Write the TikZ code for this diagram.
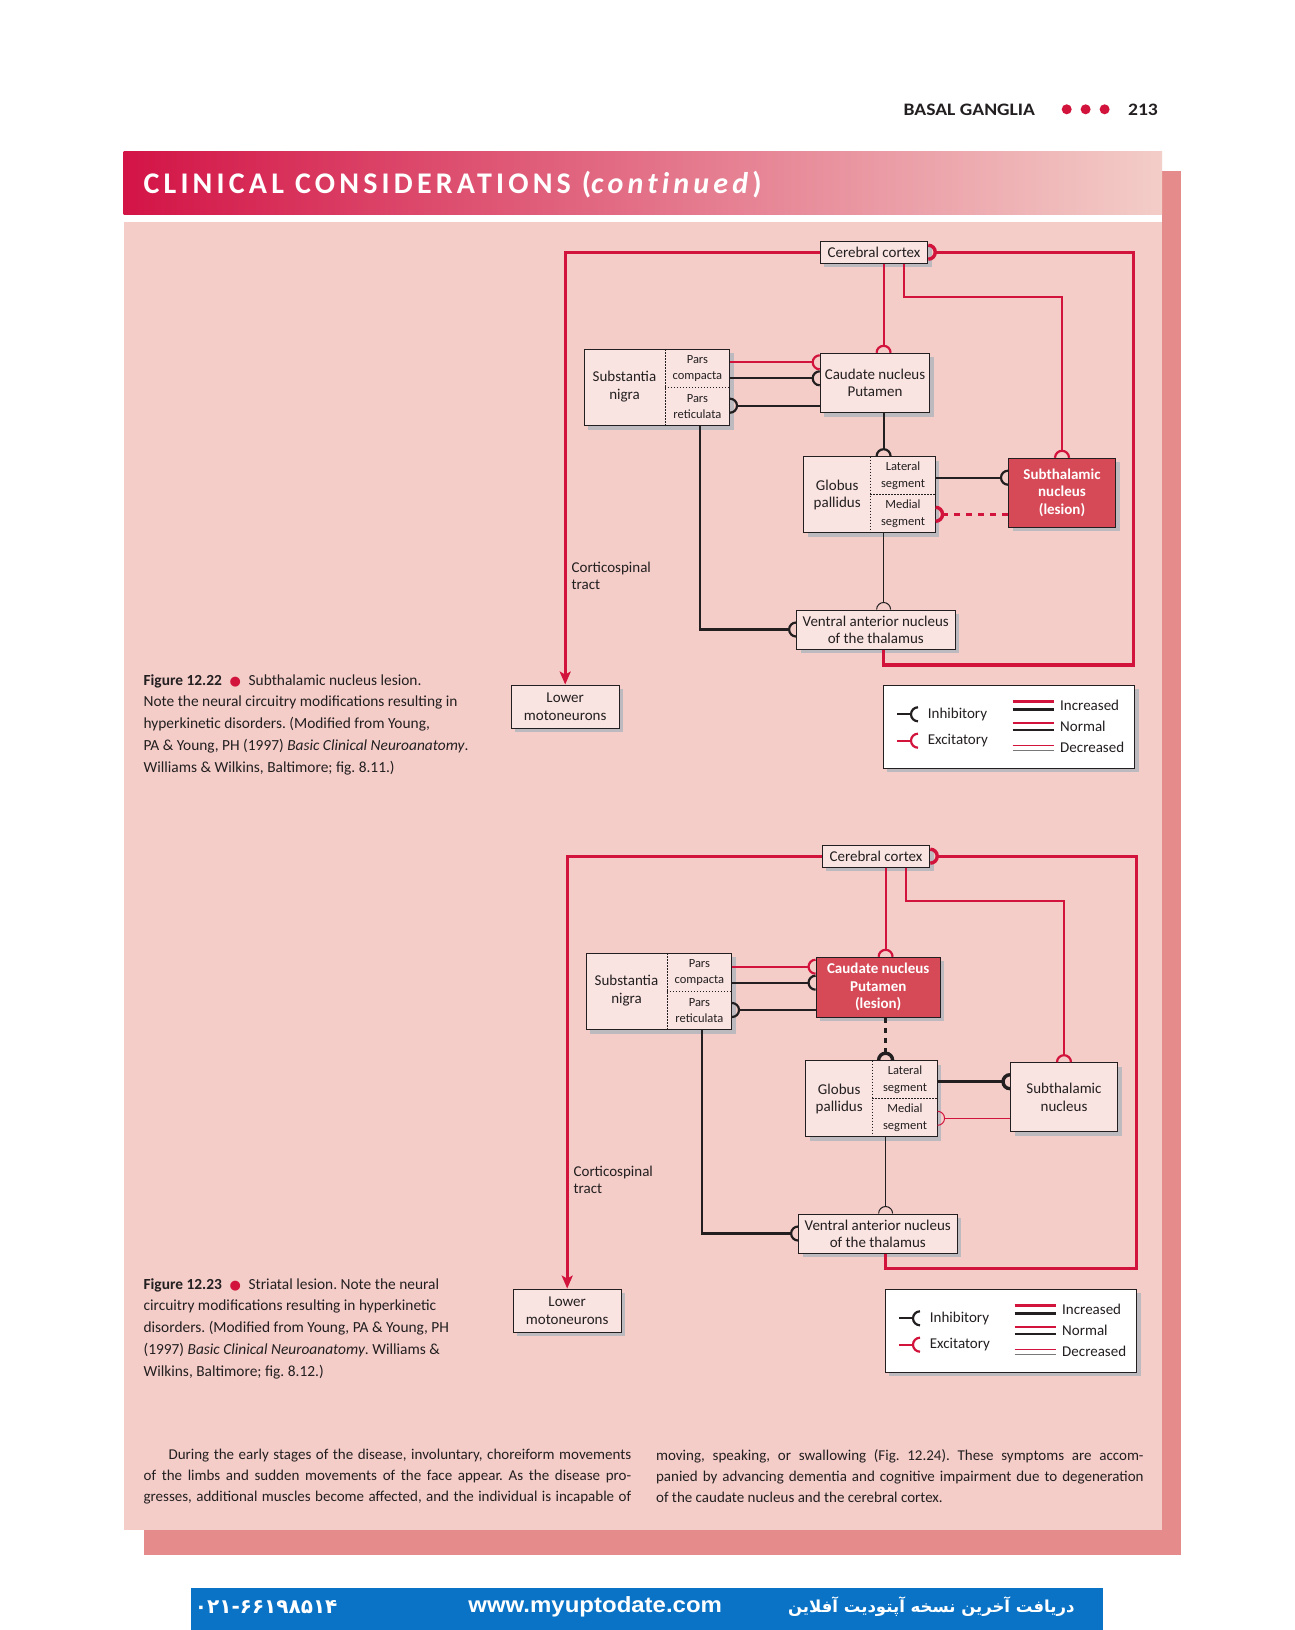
\documentclass[tikz,border=0pt]{standalone}
\usepackage{fontspec}
\usepackage{graphicx}
\setmainfont{Carlito}
\newfontfamily\headfont{Carlito}
\newfontfamily\titlefont{Carlito}[LetterSpace=14, Ligatures=NoCommon]
\newfontfamily\webfont{Liberation Sans}
\newfontfamily\symfont{DejaVu Sans}
\newfontfamily\arabicfont[Script=Arabic]{DejaVu Sans}
\TeXXeTstate=1
\usetikzlibrary{arrows.meta,shadows}

\definecolor{ink}{RGB}{35,31,32}
\definecolor{nred}{RGB}{210,20,60}
\definecolor{boxfill}{RGB}{250,228,225}
\definecolor{panel}{RGB}{244,205,201}
\definecolor{shadowpink}{RGB}{229,139,139}
\definecolor{shadegray}{RGB}{188,186,190}
\definecolor{lesionred}{RGB}{214,74,87}
\definecolor{barblue}{RGB}{10,115,198}
\definecolor{titlered}{RGB}{211,20,70}
\definecolor{titlepink}{RGB}{243,205,200}
\definecolor{lowgray}{RGB}{120,120,120}

\newcommand{\boxfont}{\fontsize{15}{17.3}\selectfont}
\newcommand{\partfont}{\fontsize{12.5}{16.5}\selectfont}
\newcommand{\capfont}{\fontsize{15.4}{21.8}\selectfont}
\newcommand{\bodyfont}{\fontsize{15}{21}\selectfont}
\newcommand{\redbullet}{{\symfont\fontsize{13}{13}\selectfont\textcolor{nred}{●}}}

% half-circle ending of a fibre
\pgfdeclarearrow{
  name = Cup,
  parameters = {\the\pgfarrowlength},
  setup code = {
    \pgfarrowssettipend{0pt}
    \pgfarrowssetlineend{-\pgfarrowlength}
    \pgfarrowssetbackend{-\pgfarrowlength}
    \pgfarrowssavethe\pgfarrowlength
  },
  drawing code = {
    \pgfsetdash{}{0pt}
    \pgfsetbuttcap
    \pgfpathmoveto{\pgfqpoint{0pt}{\pgfarrowlength}}
    \pgfpatharc{90}{270}{\pgfarrowlength}
    \pgfusepathqstroke
  },
  defaults = {length = 7pt}
}

\begin{document}
\begin{tikzpicture}[x=1pt, y=-1pt,
  region/.style={draw=ink, line width=1pt, fill=boxfill, text=ink, align=center,
    inner sep=0pt, font=\boxfont,
    drop shadow={shadow xshift=4pt, shadow yshift=-4pt, fill=shadegray, opacity=1}},
  lesion/.style={region, fill=lesionred, text=white, font=\fontsize{15}{17.5}\selectfont\bfseries},
  cell/.style={inner sep=0pt, align=center, text=ink, font=\partfont},
  divider/.style={draw=ink, line width=0.6pt, dash pattern=on 1.6pt off 1.4pt},
  tipped/.style={-{Cup[length=7pt]}},
  exc/.style={tipped, draw=nred, line width=2.2pt},
  inh/.style={tipped, draw=ink, line width=2.2pt},
  incr/.style={line width=3.4pt},
  decr/.style={line width=1pt},
  tract/.style={nred, line width=3.4pt, -{Stealth[length=13pt, width=11pt, inset=3pt]}}]

  \useasboundingbox (0,0) rectangle (1294,1630);
  \fill[white] (0,0) rectangle (1294,1630);

  % page furniture
  \node[anchor=base east, text=ink, font=\headfont\bfseries\fontsize{17.5}{20}\selectfont] (folio) at (1161.4,115) {\scalebox{1.12}[1]{213}};
  \node[anchor=base east, text=ink, font=\headfont\bfseries\fontsize{17.5}{20}\selectfont] (running) at (1038.6,115) {\scalebox{1.12}[1]{BASAL GANGLIA}};
  \foreach \x in {1066.7,1085.6,1104.6}
    \fill[nred] (\x,109.3) circle (5);

  \fill[shadowpink] (143.5,170.7) rectangle (1180.8,1555);
  \fill[white] (123.7,214.1) rectangle (1162,222.4);
  \fill[panel] (123.7,222.4) rectangle (1162,1530);
  \shade[left color=titlered, right color=titlepink] (123.7,151.8) rectangle (1162,214.1);
  \node[anchor=base west, inner sep=0pt, text=white, font=\titlefont\bfseries\fontsize{30}{34}\selectfont] (title) at (143.4,193.3) {CLINICAL CONSIDERATIONS (\textit{continued})};

  % Figure 12.22
  \node[region, minimum width=107.5, minimum height=22.3] (cortexA) at (874,252.2) {Cerebral cortex};
  \node[region, minimum width=107.7, minimum height=43.3] (lowerA) at (565.2,706.7) {Lower\\motoneurons};
  \node[region, minimum width=109.6, minimum height=59.4] (cauA) at (875,383) {Caudate nucleus\\Putamen};
  \node[region, minimum width=145.8, minimum height=76.4] (snA) at (656.9,387.5) {};
  \node[cell, font=\boxfont] (snlA) at (624.5,386.7) {Substantia\\nigra};
  \node[cell, minimum width=64.8, minimum height=38] (snpcA) at (697.4,368.3) {Pars\\compacta};
  \node[cell, minimum width=64.8, minimum height=38.4] (snprA) at (697.4,406.5) {Pars\\reticulata};
  \node[region, minimum width=131.5, minimum height=76] (gpA) at (869.6,494.7) {};
  \node[cell, font=\boxfont] (gplA) at (837.2,494.7) {Globus\\pallidus};
  \node[cell, minimum width=64.7, minimum height=37.6] (latA) at (903,475.5) {Lateral\\segment};
  \node[cell, minimum width=64.7, minimum height=38.4] (medA) at (903,513.5) {Medial\\segment};
  \node[lesion, minimum width=107, minimum height=69] (stnA) at (1062,492.8) {Subthalamic\\nucleus\\(lesion)};
  \node[region, minimum width=158.4, minimum height=39] (vaA) at (875.8,629.5) {Ventral anterior nucleus\\of the thalamus};
  \node[cell, font=\boxfont, anchor=north west, align=left] (tractA) at (571.4,562) {Corticospinal\\tract};

  \draw[divider] (snpcA.north west) -- (snprA.south west);
  \draw[divider] (snpcA.south west) -- (snpcA.south east);
  \draw[divider] (latA.north west) -- (medA.south west);
  \draw[divider] (latA.south west) -- (latA.south east);

  \coordinate (spineA) at (883.6,0);
  \coordinate (stalkA) at (904.2,0);
  \coordinate (dropA) at (700,0);
  \coordinate (bendA) at (1062,297);
  \coordinate (cornerA) at (1133.6,665);
  \coordinate (row1A) at (0,362.3);
  \coordinate (row2A) at (0,378.3);
  \coordinate (row3A) at (0,405.7);
  \coordinate (row4A) at (0,477.7);
  \coordinate (row5A) at (0,514.3);

  \draw[tract] (cortexA.west) -| (lowerA.north);
  \draw[exc, incr] (vaA.south -| spineA) |- (cornerA) |- (cortexA.east);
  \draw[exc] (cortexA.south -| spineA) -- (cauA.north -| spineA);
  \draw[exc] (cortexA.south -| stalkA) |- (bendA) -- (stnA.north);
  \draw[exc] (snpcA.east |- row1A) -- (cauA.west |- row1A);
  \draw[inh] (snpcA.east |- row2A) -- (cauA.west |- row2A);
  \draw[inh] (cauA.west |- row3A) -- (snprA.east |- row3A);
  \draw[inh] (cauA.south -| spineA) -- (gpA.north -| spineA);
  \draw[inh] (latA.east |- row4A) -- (stnA.west |- row4A);
  \draw[exc, incr, dash pattern=on 6pt off 6pt] (stnA.west |- row5A) -- (medA.east |- row5A);
  \draw[inh, decr] (gpA.south -| spineA) -- (vaA.north -| spineA);
  \draw[inh] (snprA.south -| dropA) |- (vaA.west);

  % key
  \node[region, fill=white, minimum width=251.3, minimum height=83.3] (keyA) at (1008.9,726.7) {};
  \node[cell, font=\boxfont, anchor=west] (inhA) at (927.7,714.3) {Inhibitory};
  \node[cell, font=\boxfont, anchor=west] (excA) at (927.7,740.7) {Excitatory};
  \node[cell, font=\boxfont, anchor=west] (moreA) at (1060,705) {Increased};
  \node[cell, font=\boxfont, anchor=west] (sameA) at (1060,726.7) {Normal};
  \node[cell, font=\boxfont, anchor=west] (lessA) at (1060,747.7) {Decreased};
  \draw[inh] ([xshift=-30.7pt]inhA.west) -- ([xshift=-9.7pt]inhA.west);
  \draw[exc] ([xshift=-30.7pt]excA.west) -- ([xshift=-9.7pt]excA.west);
  \draw[nred, incr] ([xshift=-47.4pt, yshift=3.3pt]moreA.west) -- ([xshift=-6.2pt, yshift=3.3pt]moreA.west);
  \draw[ink, incr] ([xshift=-47.4pt, yshift=-4.3pt]moreA.west) -- ([xshift=-6.2pt, yshift=-4.3pt]moreA.west);
  \draw[nred, line width=2pt] ([xshift=-47.4pt, yshift=4pt]sameA.west) -- ([xshift=-6.2pt, yshift=4pt]sameA.west);
  \draw[ink, line width=2pt] ([xshift=-47.4pt, yshift=-3.3pt]sameA.west) -- ([xshift=-6.2pt, yshift=-3.3pt]sameA.west);
  \draw[nred, decr] ([xshift=-47.4pt, yshift=2.4pt]lessA.west) -- ([xshift=-6.2pt, yshift=2.4pt]lessA.west);
  \draw[lowgray, decr] ([xshift=-47.4pt, yshift=-2.3pt]lessA.west) -- ([xshift=-6.2pt, yshift=-2.3pt]lessA.west);

  \node[cell, anchor=north west, align=left, font=\capfont\frenchspacing] (capA) at (143.4,674) {\textbf{Figure 12.22}\enspace\redbullet\enspace Subthalamic nucleus lesion.\\
    Note the neural circuitry modifications resulting in\\
    hyperkinetic disorders. (Modified from Young,\\
    PA \& Young, PH (1997) \textit{Basic Clinical Neuroanatomy}.\\
    Williams \& Wilkins, Baltimore; fig. 8.11.)};

  % Figure 12.23
  \begin{scope}[shift={(2,604)}]
    \node[region, minimum width=107.5, minimum height=22.3] (cortexB) at (874,252.2) {Cerebral cortex};
    \node[region, minimum width=107.7, minimum height=43.3] (lowerB) at (565.2,706.7) {Lower\\motoneurons};
    \node[lesion, minimum width=124.3, minimum height=60] (cauB) at (876.2,383.3) {Caudate nucleus\\Putamen\\(lesion)};
    \node[region, minimum width=145.8, minimum height=76.4] (snB) at (656.9,387.5) {};
    \node[cell, font=\boxfont] (snlB) at (624.5,386.7) {Substantia\\nigra};
    \node[cell, minimum width=64.8, minimum height=38] (snpcB) at (697.4,368.3) {Pars\\compacta};
    \node[cell, minimum width=64.8, minimum height=38.4] (snprB) at (697.4,406.5) {Pars\\reticulata};
    \node[region, minimum width=131.5, minimum height=76] (gpB) at (869.6,494.7) {};
    \node[cell, font=\boxfont] (gplB) at (837.2,494.7) {Globus\\pallidus};
    \node[cell, minimum width=64.7, minimum height=37.6] (latB) at (903,475.5) {Lateral\\segment};
    \node[cell, minimum width=64.7, minimum height=38.4] (medB) at (903,513.5) {Medial\\segment};
    \node[region, minimum width=107, minimum height=69] (stnB) at (1062,493.2) {Subthalamic\\nucleus};
    \node[region, minimum width=158.4, minimum height=39] (vaB) at (875.8,629.5) {Ventral anterior nucleus\\of the thalamus};
    \node[cell, font=\boxfont, anchor=north west, align=left] (tractB) at (571.4,562) {Corticospinal\\tract};

    \draw[divider] (snpcB.north west) -- (snprB.south west);
    \draw[divider] (snpcB.south west) -- (snpcB.south east);
    \draw[divider] (latB.north west) -- (medB.south west);
    \draw[divider] (latB.south west) -- (latB.south east);

    \coordinate (spineB) at (883.6,0);
    \coordinate (stalkB) at (904.2,0);
    \coordinate (dropB) at (700,0);
    \coordinate (bendB) at (1062,297);
    \coordinate (cornerB) at (1134.5,664.5);
    \coordinate (row1B) at (0,362.7);
    \coordinate (row2B) at (0,378.7);
    \coordinate (row3B) at (0,406);
    \coordinate (row4B) at (0,477.7);
    \coordinate (row5B) at (0,514.3);

    \draw[tract] (cortexB.west) -| (lowerB.north);
    \draw[exc, incr] (vaB.south -| spineB) |- (cornerB) |- (cortexB.east);
    \draw[exc] (cortexB.south -| spineB) -- (cauB.north -| spineB);
    \draw[exc] (cortexB.south -| stalkB) |- (bendB) -- (stnB.north);
    \draw[exc] (snpcB.east |- row1B) -- (cauB.west |- row1B);
    \draw[inh] (snpcB.east |- row2B) -- (cauB.west |- row2B);
    \draw[inh] (cauB.west |- row3B) -- (snprB.east |- row3B);
    \draw[inh, incr, dash pattern=on 5pt off 5pt] (cauB.south -| spineB) -- (gpB.north -| spineB);
    \draw[inh, incr] (latB.east |- row4B) -- (stnB.west |- row4B);
    \draw[exc, decr] (stnB.west |- row5B) -- (medB.east |- row5B);
    \draw[inh, decr] (gpB.south -| spineB) -- (vaB.north -| spineB);
    \draw[inh] (snprB.south -| dropB) |- (vaB.west);

    % key
    \node[region, fill=white, minimum width=251.3, minimum height=83.3] (keyB) at (1008.9,726.7) {};
    \node[cell, font=\boxfont, anchor=west] (inhB) at (927.7,714.3) {Inhibitory};
    \node[cell, font=\boxfont, anchor=west] (excB) at (927.7,740.7) {Excitatory};
    \node[cell, font=\boxfont, anchor=west] (moreB) at (1060,705) {Increased};
    \node[cell, font=\boxfont, anchor=west] (sameB) at (1060,726.7) {Normal};
    \node[cell, font=\boxfont, anchor=west] (lessB) at (1060,747.7) {Decreased};
    \draw[inh] ([xshift=-30.7pt]inhB.west) -- ([xshift=-9.7pt]inhB.west);
    \draw[exc] ([xshift=-30.7pt]excB.west) -- ([xshift=-9.7pt]excB.west);
    \draw[nred, incr] ([xshift=-47.4pt, yshift=3.3pt]moreB.west) -- ([xshift=-6.2pt, yshift=3.3pt]moreB.west);
    \draw[ink, incr] ([xshift=-47.4pt, yshift=-4.3pt]moreB.west) -- ([xshift=-6.2pt, yshift=-4.3pt]moreB.west);
    \draw[nred, line width=2pt] ([xshift=-47.4pt, yshift=4pt]sameB.west) -- ([xshift=-6.2pt, yshift=4pt]sameB.west);
    \draw[ink, line width=2pt] ([xshift=-47.4pt, yshift=-3.3pt]sameB.west) -- ([xshift=-6.2pt, yshift=-3.3pt]sameB.west);
    \draw[nred, decr] ([xshift=-47.4pt, yshift=2.4pt]lessB.west) -- ([xshift=-6.2pt, yshift=2.4pt]lessB.west);
    \draw[lowgray, decr] ([xshift=-47.4pt, yshift=-2.3pt]lessB.west) -- ([xshift=-6.2pt, yshift=-2.3pt]lessB.west);

    \node[cell, anchor=north west, align=left, font=\capfont\frenchspacing] (capB) at (141.4,674) {\textbf{Figure 12.23}\enspace\redbullet\enspace Striatal lesion. Note the neural\\
      circuitry modifications resulting in hyperkinetic\\
      disorders. (Modified from Young, PA \& Young, PH\\
      (1997) \textit{Basic Clinical Neuroanatomy}. Williams \&\\
      Wilkins, Baltimore; fig. 8.12.)};
  \end{scope}

  % running text
  \node[cell, anchor=north west, align=left, font=\bodyfont\frenchspacing] (textL) at (143.4,1449) {\makebox[487.6pt][s]{\hspace*{25pt}During the early stages of the disease, involuntary, choreiform movements}\\
    \makebox[487.6pt][s]{of the limbs and sudden movements of the face appear. As the disease pro-}\\
    \makebox[487.6pt][s]{gresses, additional muscles become affected, and the individual is incapable of}};
  \node[cell, anchor=north west, align=left, font=\bodyfont\frenchspacing] (textR) at (655.9,1449) {\makebox[487.5pt][s]{moving, speaking, or swallowing (Fig. 12.24). These symptoms are accom-}\\
    \makebox[487.5pt][s]{panied by advancing dementia and cognitive impairment due to degeneration}\\
    of the caudate nucleus and the cerebral cortex.};

  % footer
  \fill[barblue] (191.2,1587.7) rectangle (1103,1630);
  \node[anchor=west, inner sep=0pt, text=white, font=\symfont\bfseries\fontsize{20}{22}\selectfont] (phone) at (194.7,1607) {۰۲۱-۶۶۱۹۸۵۱۴};
  \node[inner sep=0pt, text=white, font=\webfont\bfseries\fontsize{22}{26}\selectfont] (site) at (595.2,1606.7) {\scalebox{1.09}[1]{www.myuptodate.com}};
  \node[inner sep=0pt, text=white, font=\arabicfont\bfseries\fontsize{16.5}{20}\selectfont] (promo) at (931.3,1606.7) {\beginR دریافت آخرین نسخه آپتودیت آفلاین\endR};
\end{tikzpicture}
\end{document}
